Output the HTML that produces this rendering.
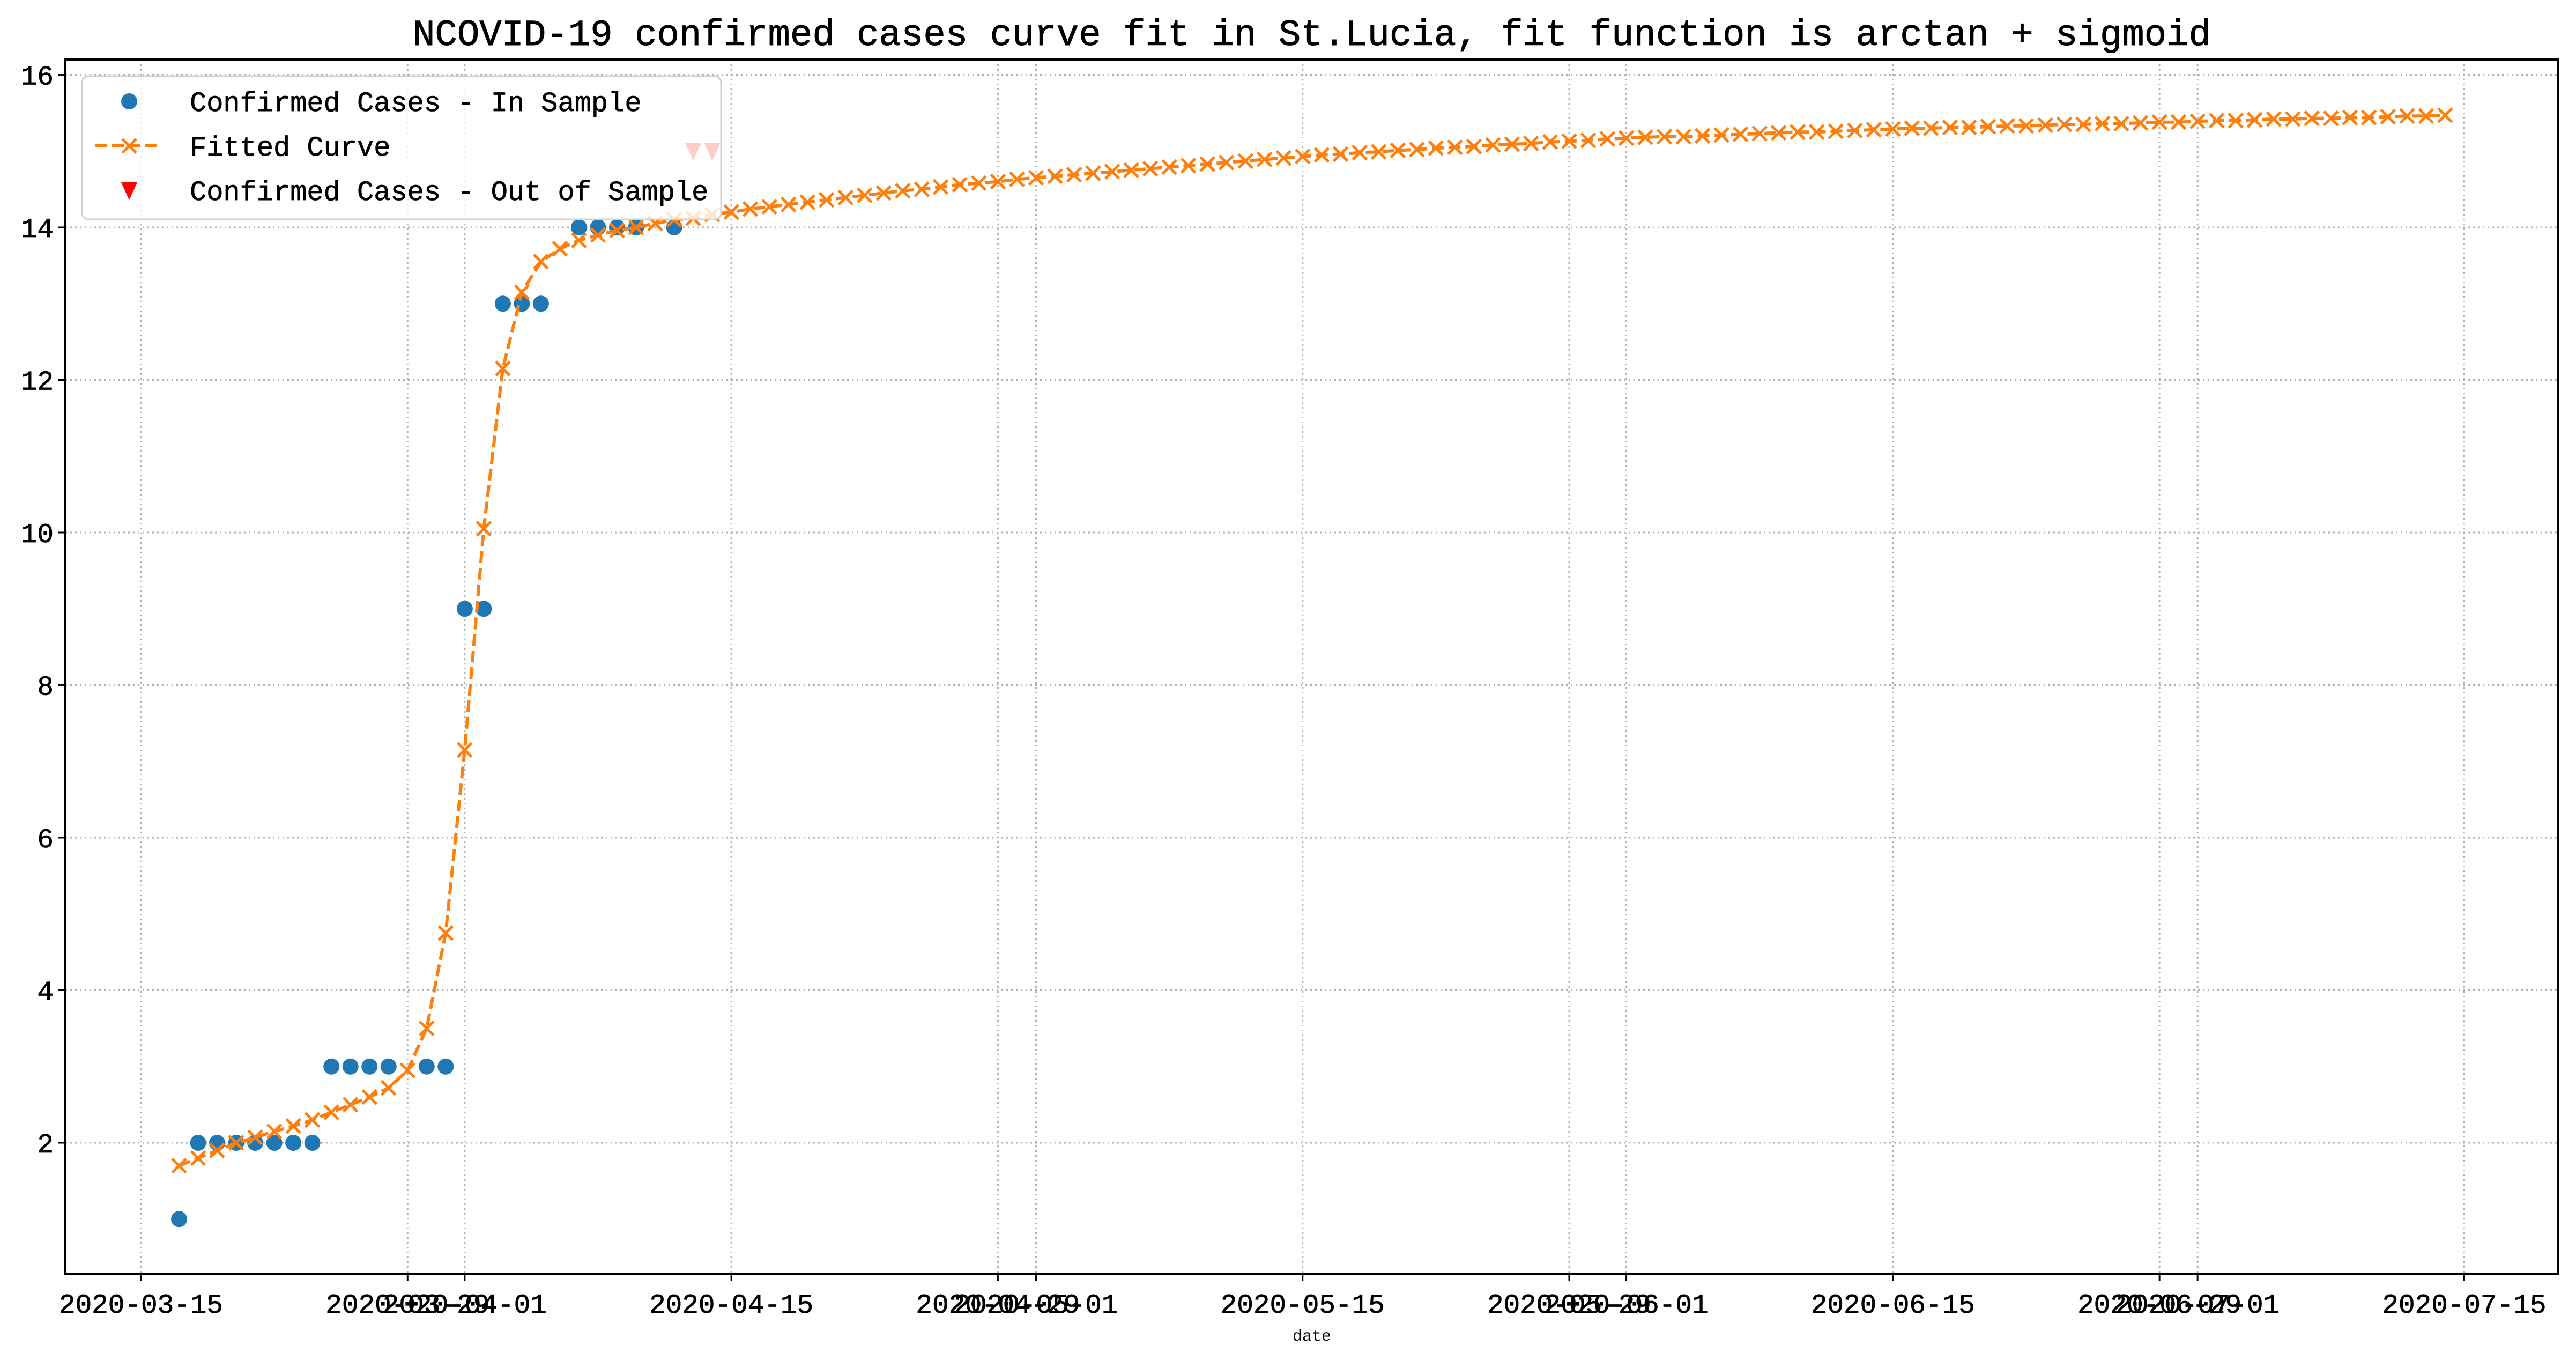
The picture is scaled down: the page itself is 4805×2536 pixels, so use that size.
<!DOCTYPE html>
<html><head><meta charset="utf-8"><style>
html,body{margin:0;padding:0;background:#fff;}
svg{display:block;}
text{font-family:"Liberation Mono","Noto Sans CJK SC",monospace;}
</style></head><body>
<svg id="chart" width="4805" height="2536" viewBox="0 0 4805 2536" xmlns="http://www.w3.org/2000/svg">
<rect width="4805" height="2536" fill="#fff"/>
<text x="2447" y="84" font-size="69" text-anchor="middle" fill="#000" stroke="#000" stroke-width="1">NCOVID-19 confirmed cases curve fit in St.Lucia, fit function is arctan + sigmoid</text>
<g id="grid"></g>
<g id="marks"></g>
<g id="legend"></g>
<g id="axes"></g>
</svg>
<script>
// days offset from 2020-03-15
const inDays = [2,3,4,5,6,7,8,9,10,11,12,13,15,16,17,18,19,20,21,23,24,25,26,28];
const inVals = [1,2,2,2,2,2,2,2,3,3,3,3,3,3,9,9,13,13,13,14,14,14,14,14];
const outDays = [29,30];
const outVals = [15,15];
const fitStart = 2;
const fitVals = [1.7,1.8,1.9,2.0,2.07,2.15,2.22,2.3,2.4,2.5,2.6,2.72,2.95,3.5,4.75,7.15,10.05,12.15,13.15,13.55,13.72,13.83,13.9,13.96,14.0,14.05,14.1,14.12,14.17,
14.20,14.24,14.27,14.30,14.33,14.36,14.39,14.42,14.45,14.48,14.50,14.53,14.56,14.58,14.60,14.63,14.65,
14.67,14.69,14.71,14.73,14.75,14.77,14.79,14.81,14.83,14.85,14.87,14.89,14.91,14.93,
14.95,14.96,14.98,14.99,15.01,15.02,15.04,15.05,15.06,15.08,15.09,15.10,15.12,15.13,15.14,15.16,15.17,
15.18,15.19,15.19,15.20,15.21,15.22,15.23,15.24,15.25,15.25,15.26,15.27,15.28,15.29,
15.30,15.30,15.31,15.31,15.32,15.33,15.33,15.34,15.35,15.35,15.36,15.36,15.37,15.38,15.38,15.39,
15.40,15.40,15.41,15.42,15.42,15.43,15.43,15.44,15.44,15.45,15.46,15.46,15.47];
const xTickDays = [0,14,17,31,45,47,61,75,78,92,106,108,122];
const xTickLabels = ["2020-03-15","2020-03-29","2020-04-01","2020-04-15","2020-04-29","2020-05-01","2020-05-15","2020-05-29","2020-06-01","2020-06-15","2020-06-29","2020-07-01","2020-07-15"];
const yTicks = [2,4,6,8,10,12,14,16];

const L=122,R=4772,T=111,B=2375;
const X=d=>263+d*35.52;
const Y=v=>424+(14-v)*142.25;
const NS="http://www.w3.org/2000/svg";
function mk(tag,attrs,parent){const e=document.createElementNS(NS,tag);for(const k in attrs)e.setAttribute(k,attrs[k]);parent.appendChild(e);return e;}
const grid=document.getElementById('grid'),marks=document.getElementById('marks'),axes=document.getElementById('axes'),legend=document.getElementById('legend');

xTickDays.forEach((d,i)=>{
  const g=mk('line',{x1:X(d),x2:X(d),y1:T,y2:B,stroke:'#b0b0b0','stroke-width':3,'stroke-dasharray':'3,6'},grid);
  
  
  const t=mk('line',{x1:X(d),x2:X(d),y1:B,y2:B+13,stroke:'#000','stroke-width':3},axes);
  
  
  const lb=mk('text',{x:X(d),y:2448,'font-size':51,'text-anchor':'middle',fill:'#000',stroke:'#000','stroke-width':0.8},axes);
  lb.textContent=xTickLabels[i];
  
  
});
yTicks.forEach(v=>{
  const g=mk('line',{x1:L,x2:R,y1:Y(v),y2:Y(v),stroke:'#b0b0b0','stroke-width':3,'stroke-dasharray':'3,6'},grid);
  
  
  const t=mk('line',{x1:L-13,x2:L,y1:Y(v),y2:Y(v),stroke:'#000','stroke-width':3},axes);
  
  
  const lb=mk('text',{x:L-22,y:Y(v)+18,'font-size':51,'text-anchor':'end',fill:'#000',stroke:'#000','stroke-width':0.8},axes);
  lb.textContent=String(v);
  
  
});
const frame=mk('rect',{x:L,y:T,width:R-L,height:B-T,fill:'none',stroke:'#000','stroke-width':4},axes);


const xl=mk('text',{x:2447,y:2500,'font-size':30,'text-anchor':'middle',fill:'#000'},axes);
xl.textContent='date';



inDays.forEach((d,i)=>{
  const c=mk('circle',{cx:X(d),cy:Y(inVals[i]),r:15,fill:'#1f77b4'},marks);
  
  
});
const pts=fitVals.map((v,i)=>X(fitStart+i).toFixed(1)+','+Y(v).toFixed(1)).join(' ');
const pl=mk('polyline',{points:pts,fill:'none',stroke:'#ff7f0e','stroke-width':6,'stroke-dasharray':'22,9'},marks);


fitVals.forEach((v,i)=>{
  const x=X(fitStart+i),y=Y(v),s=13;
  const p=mk('path',{d:`M${x-s},${y-s}L${x+s},${y+s}M${x-s},${y+s}L${x+s},${y-s}`,stroke:'#ff7f0e','stroke-width':5,fill:'none'},marks);
  
  
});
outDays.forEach((d,i)=>{
  const x=X(d),y=Y(outVals[i]);
  const p=mk('path',{d:`M${x-15},${y-15}L${x+15},${y-15}L${x},${y+18}Z`,fill:'#ff0000'},marks);
  
  
});

const lbox=mk('rect',{x:153,y:142,width:1192,height:267,rx:12,fill:'rgba(255,255,255,0.8)',stroke:'#d0d0d0','stroke-width':3},legend);


const e1=mk('circle',{cx:241,cy:189,r:15,fill:'#1f77b4'},legend);


const e2=mk('line',{x1:178,x2:302,y1:272,y2:272,stroke:'#ff7f0e','stroke-width':6,'stroke-dasharray':'22,9'},legend);


const e2b=mk('path',{d:'M228,259L254,285M228,285L254,259',stroke:'#ff7f0e','stroke-width':5},legend);


const e3=mk('path',{d:'M226,340L256,340L241,373Z',fill:'#ff0000'},legend);


[['Confirmed Cases - In Sample',207,'legend-in-sample-label'],['Fitted Curve',290,'legend-fitted-label'],['Confirmed Cases - Out of Sample',373,'legend-out-sample-label']].forEach(a=>{
  const t=mk('text',{x:354,y:a[1],'font-size':52,fill:'#000',stroke:'#000','stroke-width':0.8},legend);
  t.textContent=a[0];
  
  
});
</script>
</body></html>
